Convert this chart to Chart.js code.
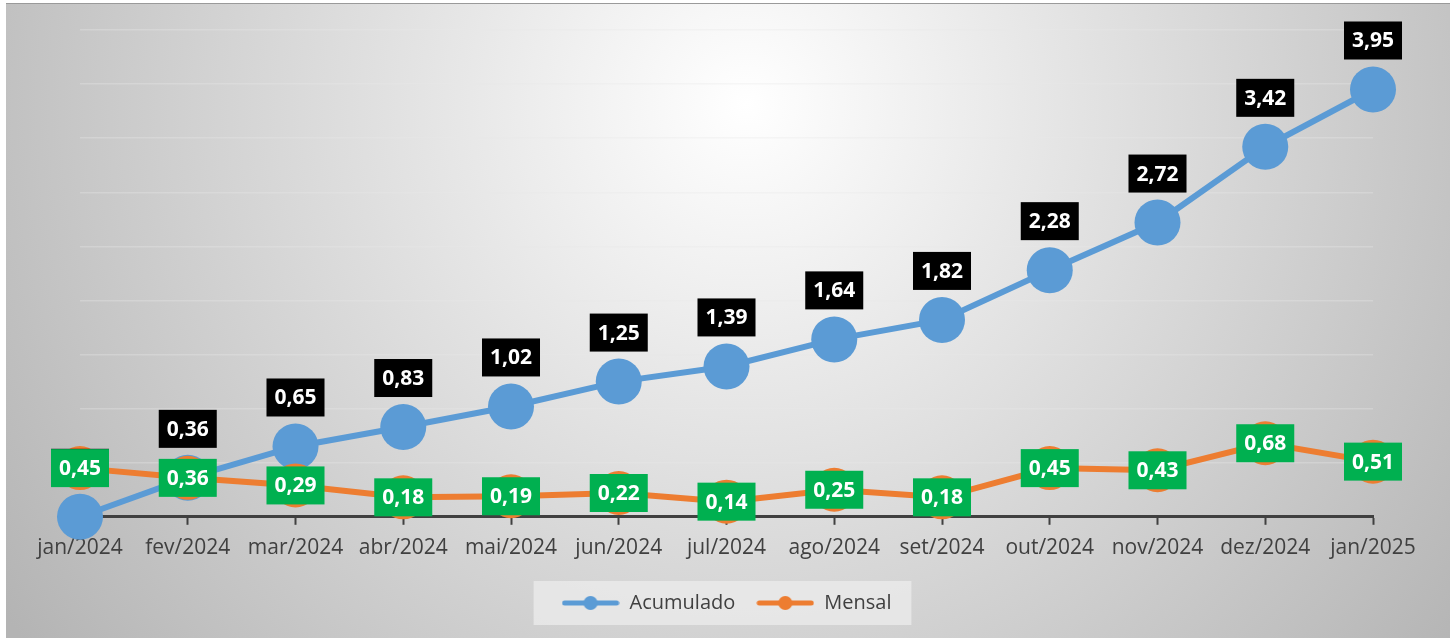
<!DOCTYPE html>
<html>
<head>
<meta charset="utf-8">
<script src="https://cdn.jsdelivr.net/npm/chart.js@4/dist/chart.umd.min.js"></script>
<style>
  body { margin: 0; background: #fff; }
  #wrap { position: absolute; left: 6px; top: 3px; width: 1444px; height: 635px; border-top: 1px solid #9a9a9a; }
</style>
</head>
<body>
<div id="wrap"><canvas id="canvas"></canvas></div>
<script>
var meses = ['jan/2024','fev/2024','mar/2024','abr/2024','mai/2024','jun/2024','jul/2024','ago/2024','set/2024','out/2024','nov/2024','dez/2024','jan/2025'];
var acumulado = [0, 0.36, 0.65, 0.83, 1.02, 1.25, 1.39, 1.64, 1.82, 2.28, 2.72, 3.42, 3.95];
var mensal = [0.45, 0.36, 0.29, 0.18, 0.19, 0.22, 0.14, 0.25, 0.18, 0.45, 0.43, 0.68, 0.51];

var azul = '#5b9bd5';
var laranja = '#ed7d31';

function legend_icon(color){
    var c = document.createElement('canvas');
    c.width = 58; c.height = 16;
    var ctx = c.getContext('2d');
    ctx.strokeStyle = color;
    ctx.lineWidth = 5;
    ctx.lineCap = 'round';
    ctx.beginPath();
    ctx.moveTo(3, 8); ctx.lineTo(55, 8);
    ctx.stroke();
    ctx.fillStyle = color;
    ctx.beginPath();
    ctx.arc(29, 8, 7, 0, Math.PI * 2);
    ctx.fill();
    return c;
}

function fmt(v){
    return v.toFixed(2).replace('.', ',');
}

// fundo em degradê + caixa da legenda
var fundo = {
    id: 'fundo',
    beforeDraw: function(chart){
        var ctx = chart.ctx;
        var g = ctx.createRadialGradient(740, 100, 0, 740, 100, 900);
        g.addColorStop(0, '#ffffff');
        g.addColorStop(0.12, '#f6f6f6');
        g.addColorStop(1, '#b4b4b4');
        ctx.save();
        ctx.fillStyle = g;
        ctx.fillRect(0, 0, chart.width, chart.height);
        var boxes = chart.legend.legendHitBoxes;
        if(boxes && boxes.length){
            var l = boxes[0].left - 28;
            var r = boxes[boxes.length - 1].left + boxes[boxes.length - 1].width + 20;
            var t = boxes[0].top + boxes[0].height / 2 - 22;
            ctx.fillStyle = 'rgba(236,236,236,0.75)';
            ctx.fillRect(l, t, r - l, 44);
        }
        ctx.restore();
    }
};

// rótulos de dados
var rotulos = {
    id: 'rotulos',
    afterDatasetsDraw: function(chart){
        var ctx = chart.ctx;
        ctx.save();
        ctx.font = 'bold 21px "Open Sans"';
        ctx.textAlign = 'center';
        ctx.textBaseline = 'middle';
        [0, 1].forEach(function(di){
            var meta = chart.getDatasetMeta(di);
            var vals = chart.data.datasets[di].data;
            meta.data.forEach(function(pt, i){
                var txt = fmt(vals[i]);
                var w = ctx.measureText(txt).width + 16;
                var h = 38;
                var cx = pt.x;
                var cy = di == 0 ? pt.y - 49 : pt.y;
                ctx.fillStyle = di == 0 ? '#000000' : '#00b050';
                ctx.fillRect(cx - w / 2, cy - h / 2, w, h);
                ctx.fillStyle = '#ffffff';
                ctx.fillText(txt, cx, cy + 1);
            });
        });
        ctx.restore();
    }
};

new Chart(document.getElementById('canvas'), {
    type: 'line',
    data: {
        labels: meses,
        datasets: [{
            label: 'Acumulado',
            data: acumulado,
            borderColor: azul,
            backgroundColor: azul,
            borderWidth: 6,
            pointRadius: 23,
            pointHoverRadius: 23,
            pointBorderWidth: 0,
            pointStyle: 'circle',
            order: 1,
            clip: false,
            fill: false
        }, {
            label: 'Mensal',
            data: mensal,
            borderColor: laranja,
            backgroundColor: laranja,
            borderWidth: 6,
            pointRadius: 22,
            pointHoverRadius: 22,
            pointBorderWidth: 0,
            order: 0,
            clip: false,
            fill: false
        }]
    },
    options: {
        responsive: true,
        maintainAspectRatio: false,
        animation: false,
        layout: { padding: { left: 74, right: 77, top: 26, bottom: 16 } },
        plugins: {
            tooltip: { enabled: false },
            legend: {
                position: 'bottom',
                labels: {
                    usePointStyle: true,
                    pointStyleWidth: 58,
                    padding: 21,
                    color: '#404040',
                    font: { family: '"Open Sans"', size: 20 },
                    sort: function(a, b){ return a.datasetIndex - b.datasetIndex; },
                    generateLabels: function(chart){
                        return chart.data.datasets.map(function(ds, i){
                            return {
                                text: ds.label,
                                pointStyle: legend_icon(ds.borderColor),
                                fillStyle: ds.borderColor,
                                strokeStyle: ds.borderColor,
                                lineWidth: 0,
                                fontColor: '#404040',
                                datasetIndex: i
                            };
                        });
                    }
                }
            }
        },
        scales: {
            x: {
                offset: false,
                border: { display: true, color: '#404040', width: 3 },
                grid: { drawOnChartArea: false, drawTicks: true, tickLength: 8, color: '#404040', tickWidth: 2 },
                ticks: { color: '#404040', padding: 11, font: { family: '"Open Sans"', size: 21 }, maxRotation: 0 }
            },
            y: {
                min: 0,
                max: 4.5,
                border: { display: false },
                grid: { color: 'rgba(232,232,232,0.35)', lineWidth: 1.5, drawTicks: false },
                ticks: { display: false, stepSize: 0.5 }
            }
        }
    },
    plugins: [fundo, rotulos]
});
</script>
</body>
</html>
